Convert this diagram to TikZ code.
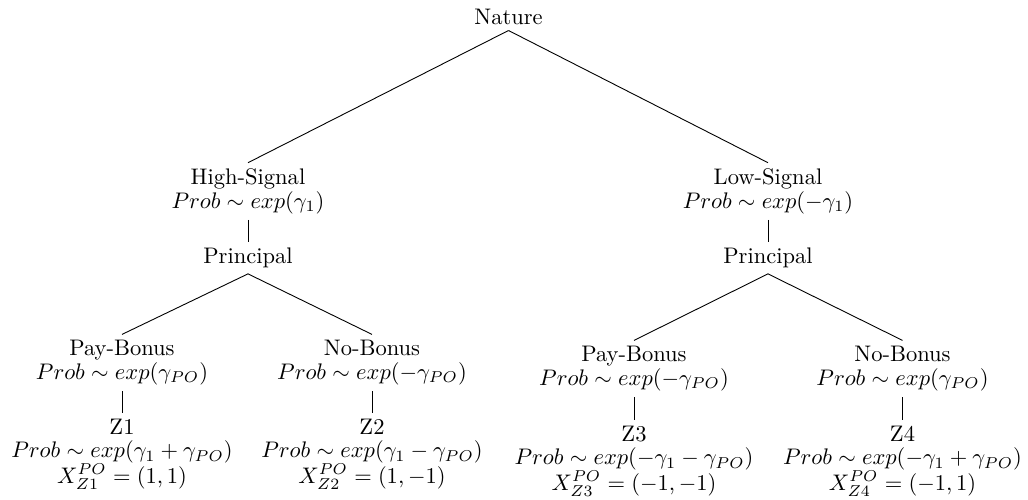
\documentclass[tikz,border=0pt]{standalone}
\usepackage{amsmath}

\newcommand{\movefont}{\fontsize{10pt}{10.4pt}\selectfont\lineskiplimit=0pt\lineskip=0.3pt\relax}

\begin{document}
\begin{tikzpicture}[
    x=0.444pt, y=-0.444pt,
    move/.style={align=center, anchor=north, inner sep=2.5pt, font=\movefont},
    branch/.style={line width=0.4pt}
]
    \useasboundingbox (0,0) rectangle (1028,499);

    % ================= ROOT & SIGNALS =================
    \node[move] (nature) at (508.5, 2.7) {Nature};
    \node[move] (high) at (248, 162.7) {High-Signal\\ $Prob \sim exp(\gamma_1)$};
    \node[move] (low) at (768, 162.7) {Low-Signal\\ $Prob \sim exp(-\gamma_1)$};

    \draw[branch] (nature.south) -- (high.north);
    \draw[branch] (nature.south) -- (low.north);

    % ================= PRINCIPAL =================
    \node[move] (prin_h) at (248, 241.7) {Principal};
    \node[move] (prin_l) at (768, 241.7) {Principal};

    \draw[branch] (high.south) -- (prin_h.north);
    \draw[branch] (low.south) -- (prin_l.north);

    % ================= BONUS DECISIONS =================
    \node[move] (pay_h) at (122, 334.4) {Pay-Bonus\\ $Prob \sim exp(\gamma_{PO})$};
    \node[move] (no_h) at (372, 334.4) {No-Bonus\\ $Prob \sim exp(-\gamma_{PO})$};
    \node[move] (pay_l) at (634, 340.4) {Pay-Bonus\\ $Prob \sim exp(-\gamma_{PO})$};
    \node[move] (no_l) at (902.5, 340.4) {No-Bonus\\ $Prob \sim exp(\gamma_{PO})$};

    \draw[branch] (prin_h.south) -- (pay_h.north);
    \draw[branch] (prin_h.south) -- (no_h.north);
    \draw[branch] (prin_l.south) -- (pay_l.north);
    \draw[branch] (prin_l.south) -- (no_l.north);

    % ================= OUTCOMES =================
    \node[move] (z1) at (122, 413) {Z1\\ $Prob \sim exp(\gamma_1 + \gamma_{PO})$\\ $X^{PO}_{Z1} = (1,1)$};
    \node[move] (z2) at (372, 413) {Z2\\ $Prob \sim exp(\gamma_1 - \gamma_{PO})$\\ $X^{PO}_{Z2} = (1,-1)$};
    \node[move] (z3) at (634, 420) {Z3\\ $Prob \sim exp(-\gamma_1 - \gamma_{PO})$\\ $X^{PO}_{Z3} = (-1,-1)$};
    \node[move] (z4) at (902.5, 420) {Z4\\ $Prob \sim exp(-\gamma_1 + \gamma_{PO})$\\ $X^{PO}_{Z4} = (-1,1)$};

    \draw[branch] (pay_h.south) -- (z1.north);
    \draw[branch] (no_h.south) -- (z2.north);
    \draw[branch] (pay_l.south) -- (z3.north);
    \draw[branch] (no_l.south) -- (z4.north);

\end{tikzpicture}
\end{document}
